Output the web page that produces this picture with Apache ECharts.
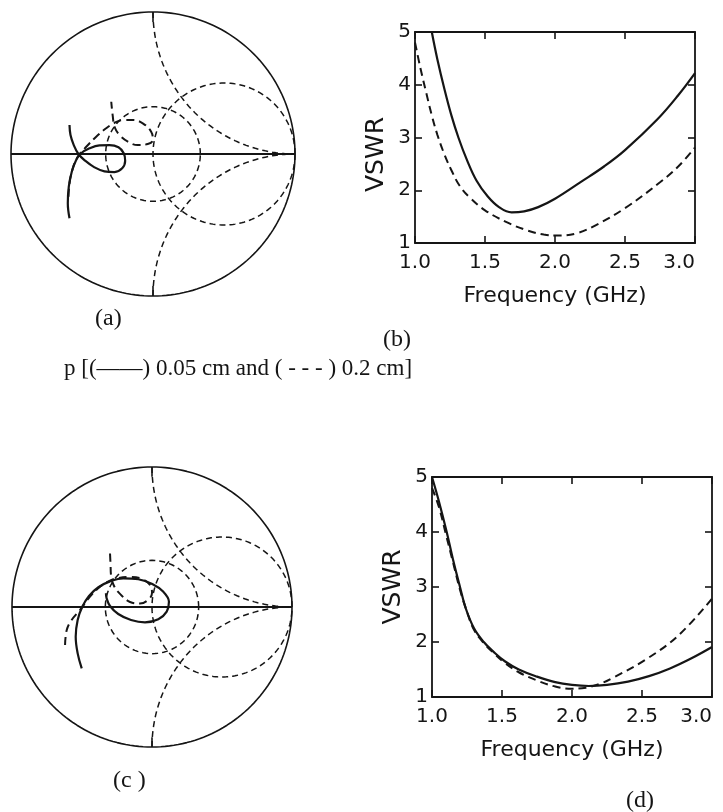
<!DOCTYPE html>
<html>
<head>
<meta charset="utf-8">
<script src="https://cdn.jsdelivr.net/npm/echarts@6/dist/echarts.min.js"></script>
<style>
  html, body { margin: 0; padding: 0; background: #fff; }
  #chart { width: 723px; height: 812px; }
</style>
</head>
<body>
<div id="chart"></div>
<script>
// smith chart background: r = 1 circle, x = +/-1 arcs, VSWR = 2 circle
var smithResistance = [1];
var smithReactance = [1, -1];
var smithVswr = [2];
var smithEdgeTicks = [1, -1];

// impedance loci, reflection coefficient [re, im]
// p = 0.05 cm -> solid, p = 0.2 cm -> dashed
var locusA_005 = [
  [-0.588, -0.453], [-0.600, -0.347], [-0.593, -0.230], [-0.572, -0.125],
  [-0.541, -0.042], [-0.506, 0.005], [-0.447, 0.040], [-0.377, 0.061],
  [-0.306, 0.063], [-0.243, 0.047], [-0.206, 0.005], [-0.196, -0.047],
  [-0.217, -0.101], [-0.271, -0.127], [-0.342, -0.122], [-0.412, -0.094],
  [-0.478, -0.047], [-0.525, 0.000], [-0.558, 0.063], [-0.581, 0.134],
  [-0.588, 0.204]
];
var locusA_02 = [
  [-0.595, -0.301], [-0.588, -0.206], [-0.565, -0.101], [-0.530, -0.019],
  [-0.470, 0.051], [-0.400, 0.122], [-0.330, 0.181], [-0.276, 0.216],
  [-0.213, 0.239], [-0.142, 0.239], [-0.072, 0.216], [-0.013, 0.157],
  [-0.001, 0.099], [-0.037, 0.070], [-0.107, 0.063], [-0.177, 0.087],
  [-0.236, 0.134], [-0.271, 0.192], [-0.283, 0.263], [-0.294, 0.368]
];
var locusC_005 = [
  [-0.502, -0.438], [-0.531, -0.331], [-0.545, -0.212], [-0.531, -0.093],
  [-0.498, 0.002], [-0.450, 0.079], [-0.383, 0.141], [-0.300, 0.183],
  [-0.205, 0.205], [-0.098, 0.198], [0.002, 0.164], [0.081, 0.109],
  [0.121, 0.038], [0.105, -0.033], [0.045, -0.088], [-0.050, -0.110],
  [-0.150, -0.093], [-0.241, -0.050], [-0.300, 0.007], [-0.324, 0.062],
  [-0.329, 0.098]
];
var locusC_02 = [
  [-0.621, -0.271], [-0.609, -0.164], [-0.574, -0.093], [-0.514, -0.021],
  [-0.443, 0.074], [-0.371, 0.145], [-0.300, 0.188], [-0.243, 0.207],
  [-0.157, 0.214], [-0.071, 0.200], [-0.014, 0.157], [0.000, 0.100],
  [-0.029, 0.050], [-0.086, 0.025], [-0.157, 0.036], [-0.221, 0.086],
  [-0.271, 0.150], [-0.293, 0.229], [-0.296, 0.300], [-0.300, 0.386]
];

// VSWR vs frequency (GHz)
var freqB_005 = [1.12, 1.16, 1.21, 1.26, 1.31, 1.37, 1.44, 1.52, 1.60, 1.69, 1.78, 1.88, 2.00, 2.18, 2.35, 2.50, 2.73, 2.88, 3.00];
var vswrB_005 = [5.0, 4.48, 3.92, 3.42, 3.0, 2.58, 2.18, 1.88, 1.68, 1.58, 1.60, 1.68, 1.84, 2.15, 2.45, 2.76, 3.34, 3.80, 4.22];
var freqB_02 = [1.0, 1.04, 1.08, 1.12, 1.16, 1.21, 1.26, 1.32, 1.40, 1.50, 1.65, 1.80, 1.92, 2.02, 2.15, 2.30, 2.50, 2.75, 2.88, 3.0];
var vswrB_02 = [4.8, 4.3, 3.85, 3.42, 3.05, 2.68, 2.38, 2.08, 1.84, 1.62, 1.40, 1.24, 1.16, 1.14, 1.18, 1.35, 1.66, 2.15, 2.45, 2.81];
var freqD_005 = [1.0, 1.05, 1.105, 1.15, 1.20, 1.24, 1.30, 1.37, 1.44, 1.52, 1.62, 1.75, 1.88, 2.0, 2.12, 2.25, 2.40, 2.55, 2.70, 2.85, 3.0];
var vswrD_005 = [5.0, 4.55, 4.0, 3.5, 3.0, 2.62, 2.25, 2.0, 1.82, 1.65, 1.50, 1.37, 1.27, 1.22, 1.20, 1.22, 1.28, 1.38, 1.52, 1.70, 1.91];
var freqD_02 = [1.0, 1.05, 1.10, 1.15, 1.20, 1.25, 1.30, 1.37, 1.44, 1.52, 1.62, 1.75, 1.88, 2.0, 2.10, 2.20, 2.30, 2.52, 2.76, 3.0];
var vswrD_02 = [4.8, 4.45, 3.95, 3.45, 2.95, 2.55, 2.22, 1.98, 1.80, 1.62, 1.45, 1.30, 1.19, 1.15, 1.17, 1.24, 1.36, 1.67, 2.12, 2.79];

var freqRange = [1.0, 3.0], freqStep = 0.5;
var vswrRange = [1, 5], vswrStep = 1;

var panelLabels = ['(a)', '(b)', '(c )', '(d)'];
var caption = 'p [(\u2014\u2014) 0.05 cm and ( - - - ) 0.2 cm]';

var ink = '#151515';
var sans = 'DejaVu Sans';
var serif = 'Liberation Serif';

function zip(xs, ys) {
  return xs.map(function (x, i) { return [x, ys[i]]; });
}

// z = r + jx  ->  gamma
function gamma(r, x) {
  var d = (r + 1) * (r + 1) + x * x;
  return [(r * r - 1 + x * x) / d, 2 * x / d];
}

function circlePts(cx, cy, rad) {
  var pts = [];
  for (var i = 0; i <= 200; i++) {
    var t = 2 * Math.PI * i / 200;
    pts.push([cx + rad * Math.cos(t), cy + rad * Math.sin(t)]);
  }
  return pts;
}

function reactanceArc(x) {
  var pts = [];
  for (var i = 0; i < 200; i++) {
    pts.push(gamma(Math.tan(Math.PI / 2 * i / 200), x));
  }
  pts.push([1, 0]);
  return pts;
}

function line(name, grid, data, dash, width, smooth) {
  return {
    name: name,
    type: 'line',
    xAxisIndex: grid.x,
    yAxisIndex: grid.y,
    data: data,
    showSymbol: false,
    symbol: 'none',
    smooth: smooth ? 0.4 : false,
    silent: true,
    clip: false,
    lineStyle: {
      color: ink,
      width: width,
      type: dash || 'solid'
    }
  };
}

var gridDash = [6, 4];
var curveDash = [8, 5];

function smithSeries(grid) {
  var s = [];
  s.push(line('edge', grid, circlePts(0, 0, 1), null, 1.6, false));
  s.push(line('real axis', grid, [[-1, 0], [1, 0]], null, 2, false));
  smithEdgeTicks.forEach(function (v) {
    s.push(line('tick', grid, [[0, v], [0, v * 0.93]], null, 1.6, false));
  });
  smithResistance.forEach(function (r) {
    s.push(line('r', grid, circlePts(r / (1 + r), 0, 1 / (1 + r)), gridDash, 1.5, false));
  });
  smithReactance.forEach(function (x) {
    s.push(line('x', grid, reactanceArc(x), gridDash, 1.5, false));
  });
  smithVswr.forEach(function (v) {
    s.push(line('vswr', grid, circlePts(0, 0, (v - 1) / (v + 1)), gridDash, 1.5, false));
  });
  return s;
}

var grids = [
  { left: 11, top: 12, width: 284, height: 284 },   // (a)
  { left: 415, top: 32, width: 280, height: 211 },  // (b)
  { left: 12, top: 467, width: 280, height: 280 },  // (c)
  { left: 432, top: 477, width: 280, height: 220 }  // (d)
].map(function (g) {
  g.show = false;
  g.containLabel = false;
  g.outerBoundsMode = 'none';
  return g;
});

var xAxes = [], yAxes = [];

function smithAxes(gi) {
  xAxes.push({ gridIndex: gi, type: 'value', min: -1, max: 1, show: false });
  yAxes.push({ gridIndex: gi, type: 'value', min: -1, max: 1, show: false });
  return { x: xAxes.length - 1, y: yAxes.length - 1 };
}

function vswrAxes(gi, nameShift) {
  var axisLine = { show: true, onZero: false, lineStyle: { color: ink, width: 1.8 } };
  var tick = { show: true, inside: true, length: 7, lineStyle: { color: ink, width: 1.6 } };
  var label = { color: ink, fontFamily: sans, fontSize: 20 };
  xAxes.push({
    gridIndex: gi, type: 'value', position: 'bottom',
    min: freqRange[0], max: freqRange[1], interval: freqStep,
    axisLine: axisLine, axisTick: tick, splitLine: { show: false },
    axisLabel: Object.assign({
      margin: 10, alignMaxLabel: 'right',
      formatter: function (v) { return v.toFixed(1); }
    }, label),
    name: 'Frequency (GHz)', nameLocation: 'middle', nameGap: 42,
    nameTextStyle: { color: ink, fontFamily: sans, fontSize: 22 }
  });
  var xb = xAxes.length - 1;
  xAxes.push({
    gridIndex: gi, type: 'value', position: 'top',
    min: freqRange[0], max: freqRange[1], interval: freqStep,
    axisLine: axisLine, axisTick: tick, splitLine: { show: false },
    axisLabel: { show: false }
  });
  yAxes.push({
    gridIndex: gi, type: 'value', position: 'left',
    min: vswrRange[0], max: vswrRange[1], interval: vswrStep,
    axisLine: axisLine, axisTick: tick, splitLine: { show: false },
    axisLabel: Object.assign({ margin: 4 }, label),
    name: 'VSWR', nameLocation: 'middle', nameGap: 26, nameRotate: 90,
    nameTextStyle: { color: ink, fontFamily: sans, fontSize: 25, padding: [0, nameShift, 0, 0] }
  });
  var yl = yAxes.length - 1;
  yAxes.push({
    gridIndex: gi, type: 'value', position: 'right',
    min: vswrRange[0], max: vswrRange[1], interval: vswrStep,
    axisLine: axisLine, axisTick: tick, splitLine: { show: false },
    axisLabel: { show: false }
  });
  return { x: xb, y: yl };
}

var gA = smithAxes(0);
var gB = vswrAxes(1, 34);
var gC = smithAxes(2);
var gD = vswrAxes(3, 0);

var series = [].concat(
  smithSeries(gA),
  [line('0.05 cm', gA, locusA_005, null, 2.2, true),
   line('0.2 cm', gA, locusA_02, curveDash, 2, true)],
  [line('0.05 cm', gB, zip(freqB_005, vswrB_005), null, 2.2, true),
   line('0.2 cm', gB, zip(freqB_02, vswrB_02), curveDash, 2, true)],
  smithSeries(gC),
  [line('0.05 cm', gC, locusC_005, null, 2.2, true),
   line('0.2 cm', gC, locusC_02, curveDash, 2, true)],
  [line('0.05 cm', gD, zip(freqD_005, vswrD_005), null, 2.2, true),
   line('0.2 cm', gD, zip(freqD_02, vswrD_02), curveDash, 2, true)]
);

var titleStyle = { color: ink, fontFamily: serif, fontSize: 24, fontWeight: 'normal' };
var titlePos = [[95, 307], [383, 328], [113, 769], [626, 789]];
var titles = panelLabels.map(function (t, i) {
  return { text: t, left: titlePos[i][0], top: titlePos[i][1], padding: 0, textStyle: titleStyle };
});
titles.push({
  text: caption, left: 64, top: 357, padding: 0,
  textStyle: { color: ink, fontFamily: serif, fontSize: 23, fontWeight: 'normal' }
});

var chart = echarts.init(document.getElementById('chart'), null, { renderer: 'canvas' });
chart.setOption({
  animation: false,
  backgroundColor: '#fff',
  title: titles,
  grid: grids,
  xAxis: xAxes,
  yAxis: yAxes,
  series: series
});
</script>
</body>
</html>
